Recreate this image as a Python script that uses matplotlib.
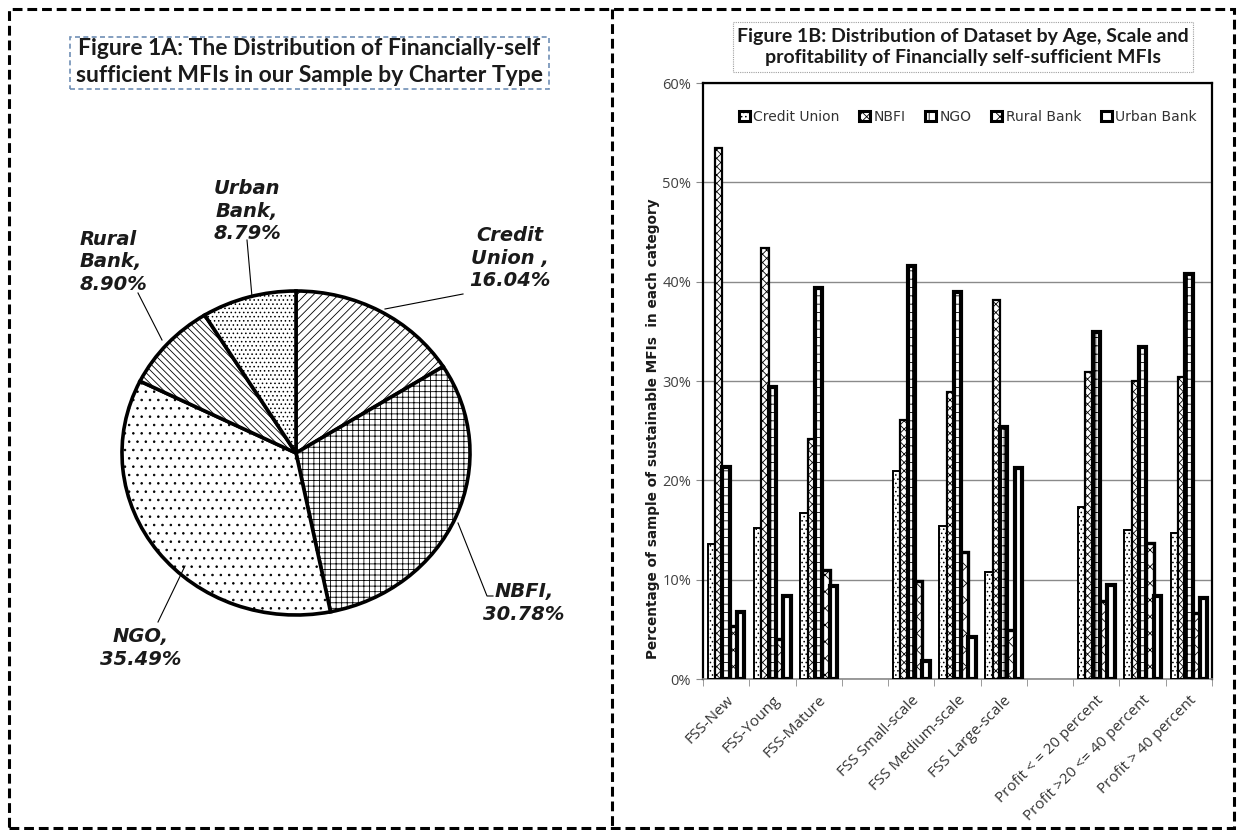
import numpy as np
import matplotlib
matplotlib.use("Agg")
import matplotlib.pyplot as plt
from matplotlib.patches import Rectangle
from matplotlib.lines import Line2D
from matplotlib.ticker import PercentFormatter

W, H = 1237, 830

# ---- data -------------------------------------------------------------
charter_types = ["Credit Union", "NBFI", "NGO", "Rural Bank", "Urban Bank"]
pie_shares = [16.04, 30.78, 35.49, 8.90, 8.79]
pie_label_names = ["Credit\nUnion ,", "NBFI,", "NGO,", "Rural\nBank,", "Urban\nBank,"]

categories = ["FSS-New", "FSS-Young", "FSS-Mature",
              "FSS Small-scale", "FSS Medium-scale", "FSS Large-scale",
              "Profit < = 20 percent", "Profit >20 <= 40 percent", "Profit > 40 percent"]
credit_union = [13.6, 15.2, 16.7, 20.9, 15.4, 10.8, 17.3, 15.0, 14.7]
nbfi = [53.5, 43.4, 24.2, 26.1, 28.9, 38.2, 30.9, 30.0, 30.4]
ngo = [21.3, 29.4, 39.4, 41.6, 39.0, 25.4, 34.9, 33.4, 40.8]
rural_bank = [5.3, 4.0, 11.0, 9.9, 12.8, 4.9, 7.9, 13.7, 6.6]
urban_bank = [6.7, 8.4, 9.4, 1.8, 4.2, 21.2, 9.5, 8.4, 8.2]
# slot index of each category (empty slots between the three groups)
slots = [0, 1, 2, 4, 5, 6, 8, 9, 10]


def fx(x):
    return x / W


def fy(y):
    return 1 - y / H


plt.rcParams["hatch.linewidth"] = 0.6

fig = plt.figure(figsize=(W / 100, H / 100), dpi=100)

# ---- outer dashed frame and divider ----------------------------------
dash = (0, (3.2, 1.6))
fig.add_artist(Rectangle((fx(9), fy(828)), 1225 / W, 819 / H, transform=fig.transFigure,
                         fill=False, ec="black", lw=2.2, ls=dash))
fig.add_artist(Line2D([fx(612), fx(612)], [fy(9), fy(828)], transform=fig.transFigure,
                      color="black", lw=2.2, ls=dash))

# ---- Figure 1A: pie ---------------------------------------------------
fig.add_artist(Rectangle((fx(70), fy(89)), 479 / W, 52 / H, transform=fig.transFigure,
                         fill=False, ec="#6f8fb5", lw=1.2, ls=(0, (3, 2))))
fig.text(fx(309.5), fy(62), "Figure 1A: The Distribution of Financially-self\n"
         "sufficient MFIs in our Sample by Charter Type",
         ha="center", va="center", fontsize=16.5, fontweight="bold", family="Lato",
         color="#1a1a1a", linespacing=1.3)

ax_pie = fig.add_axes([fx(122), fy(615), (470 - 122) / W, (615 - 291) / H])
pie_hatches = ["////", "+++", "..", "\\\\\\\\\\", "...."]
wedges, _ = ax_pie.pie(pie_shares, startangle=90, counterclock=False,
                       colors=["white"] * 5, hatch=pie_hatches,
                       wedgeprops=dict(edgecolor="black", linewidth=2.6))
for w in wedges:
    w.set_clip_on(False)
ax_pie.set_aspect("auto")
ax_pie.set_xlim(-1, 1)
ax_pie.set_ylim(-1, 1)
ax_pie.axis("off")

label_pos = [(510, 258), (524, 603), (141, 648), (80, 262), (247, 211)]
label_ha = ["center", "center", "center", "left", "center"]
for name, share, (lx, ly), ha in zip(pie_label_names, pie_shares, label_pos, label_ha):
    fig.text(fx(lx), fy(ly), f"{name}\n{share:.2f}%", ha=ha, va="center",
             multialignment=ha, fontsize=14, fontweight="bold", fontstyle="italic",
             family="DejaVu Sans", color="#1a1a1a", linespacing=1.25)

leaders = [[(463, 294), (385, 309)],
           [(493, 596), (487, 596), (458, 523)],
           [(158, 622), (185, 566)],
           [(138, 293), (162, 340)],
           [(247, 240), (252, 297)]]
for pts in leaders:
    xs = [fx(p[0]) for p in pts]
    ys = [fy(p[1]) for p in pts]
    fig.add_artist(Line2D(xs, ys, transform=fig.transFigure, color="black", lw=0.8))

# ---- Figure 1B: grouped bars ------------------------------------------
fig.add_artist(Rectangle((fx(733), fy(72)), 460 / W, 50 / H, transform=fig.transFigure,
                         fill=False, ec="#a0a0a0", lw=0.8, ls=(0, (1, 1))))
fig.text(fx(963), fy(47), "Figure 1B: Distribution of Dataset by Age, Scale and\n"
         "profitability of Financially self-sufficient MFIs",
         ha="center", va="center", fontsize=14, fontweight="bold", family="Lato",
         color="#1a1a1a", linespacing=1.35)

ax = fig.add_axes([fx(703), fy(679), 509 / W, 596 / H])
series = [credit_union, nbfi, ngo, rural_bank, urban_bank]
bar_hatches = ["....", "xxxx", "++", "xx", ""]
edge_widths = [1.4, 1.6, 3.0, 2.4, 3.0]
bw = 0.158
x = np.array(slots, dtype=float)
for i, (vals, name) in enumerate(zip(series, charter_types)):
    ax.bar(x + (i - 2) * bw, np.array(vals) / 100, bw, color="white",
           edgecolor="black", linewidth=edge_widths[i], hatch=bar_hatches[i],
           label=name, zorder=3)

ax.set_xlim(-0.5, 10.5)
ax.set_ylim(0, 0.6)
ax.set_yticks(np.arange(0, 0.61, 0.1))
ax.yaxis.set_major_formatter(PercentFormatter(1.0, decimals=0))
ax.grid(axis="y", color="#8a8a8a", lw=1, zorder=0)
ax.set_xticks(slots)
ax.set_xticklabels(categories, rotation=45, ha="right", rotation_mode="anchor",
                   fontsize=11, color="#333333", family="Open Sans")
ax.set_xticks(np.arange(-0.5, 11, 1), minor=True)
ax.tick_params(axis="x", which="major", length=0, pad=10)
ax.tick_params(axis="x", which="minor", length=5, color="#8a8a8a")
ax.tick_params(axis="y", length=5, color="#8a8a8a", labelsize=10.5, labelcolor="#404040")
for lab in ax.get_yticklabels():
    lab.set_family("Open Sans")
for side in ["left", "top", "right"]:
    ax.spines[side].set_color("black")
    ax.spines[side].set_linewidth(1.6)
ax.spines["bottom"].set_color("#8a8a8a")
ax.spines["bottom"].set_linewidth(1.2)
ax.set_ylabel("Percentage of sample of sustainable MFIs  in each category",
              fontsize=9.8, fontweight="bold", color="#1a1a1a")
ax.yaxis.set_label_coords(-0.085, 0.42)

leg = ax.legend(loc="center", bbox_to_anchor=(0.52, 0.943), ncol=5, frameon=False,
                handlelength=0.8, handleheight=0.8, handletextpad=0.25,
                columnspacing=1.4, fontsize=10)
for t in leg.get_texts():
    t.set_color("#333333")
for h in leg.legend_handles:
    h.set_linewidth(2.2)

fig.savefig("out.png", dpi=100)
